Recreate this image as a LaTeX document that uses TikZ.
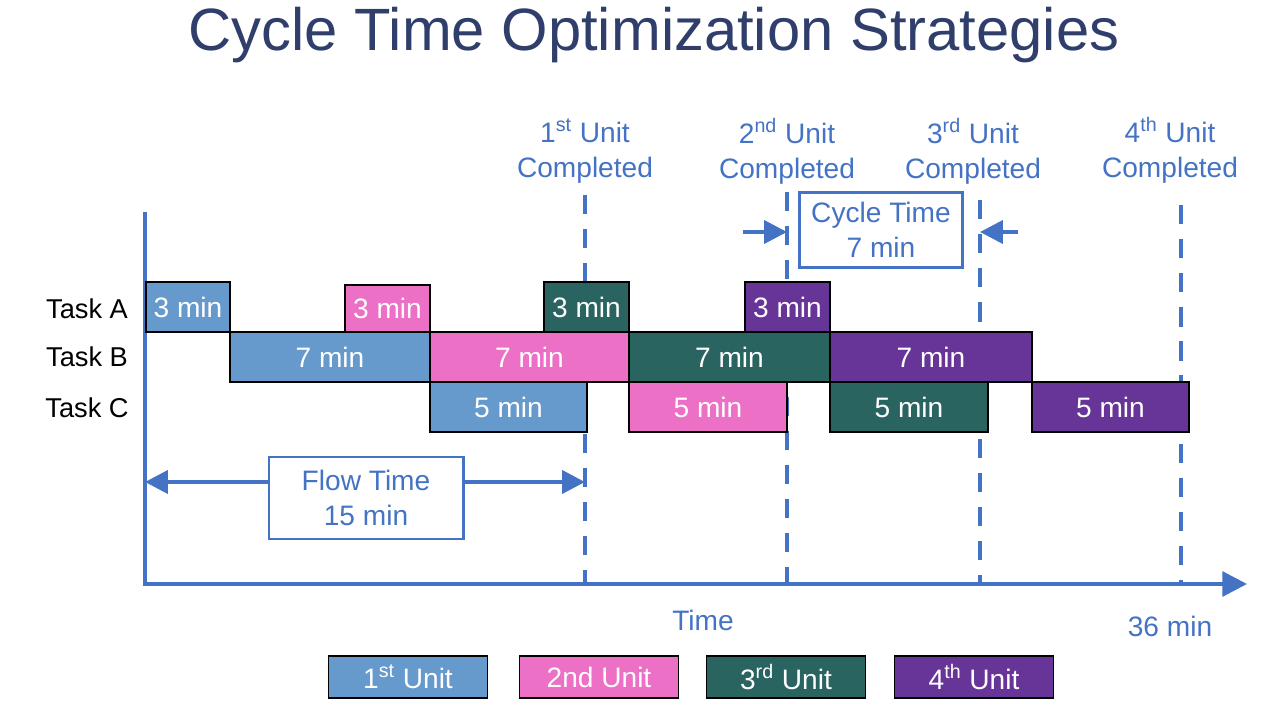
\documentclass[tikz,border=0pt]{standalone}
\usepackage{fontspec}
\setmainfont{Liberation Sans}
\usetikzlibrary{arrows.meta, positioning}
\definecolor{unitblue}{RGB}{102,153,204}
\definecolor{unitpink}{RGB}{236,112,198}
\definecolor{unitteal}{RGB}{42,100,97}
\definecolor{unitpurple}{RGB}{103,52,152}
\definecolor{lineblue}{RGB}{68,114,196}
\definecolor{titlenavy}{RGB}{47,62,107}

\begin{document}
\begin{tikzpicture}[
  x=0.02cm, y=-0.02cm,
  font=\fontsize{16}{20}\selectfont,
  bar/.style={draw=black, line width=1.1pt, inner sep=0pt, text=white, anchor=north west, minimum width=#1*0.02cm, minimum height=50*0.02cm},
  leyenda/.style={draw=black, line width=1.1pt, inner sep=0pt, text=white, minimum width=159*0.02cm, minimum height=42*0.02cm},
  marco/.style={draw=lineblue, line width=1.7pt, fill=white, text=lineblue, align=center, inner sep=0pt},
  et/.style={text=lineblue, align=center, inner sep=1pt},
  tarea/.style={font=\fontsize{15.5}{19}\selectfont, inner sep=1pt},
  eje/.style={draw=lineblue, line width=2.3pt},
  corte/.style={draw=lineblue, line width=2.6pt, dash pattern=on 11pt off 8.4pt},
  flecha/.style={-{Triangle[length=13pt, width=13pt]}, draw=lineblue, line width=2.3pt}
]
\useasboundingbox (0,0) rectangle (1274,716);
% Título
\node[font=\fontsize{34}{40}\selectfont, text=titlenavy] (titulo) at (654,35) {Cycle Time Optimization Strategies};
% Ejes y líneas de unidad terminada
\coordinate (yarriba) at (145,212);
\coordinate (origen) at (145,584);
\coordinate (xfin) at (1247,584);
\foreach \x/\t/\n in {585/195/1, 787/192/2, 980/200/3, 1181/205/4} {
  \coordinate (d\n t) at (\x,\t);
  \coordinate (d\n b) at (\x,584);
  \draw[corte] (d\n t) -- (d\n b);
}
\draw[eje, -{Triangle[length=14pt, width=14pt]}, line join=miter] (yarriba) -- (origen) -- (xfin);
\node[et] (done1) at (585,151) {1\textsuperscript{st} Unit\\Completed};
\node[et] (done2) at (787,151) {2\textsuperscript{nd} Unit\\Completed};
\node[et] (done3) at (973,151) {3\textsuperscript{rd} Unit\\Completed};
\node[et] (done4) at (1170,150) {4\textsuperscript{th} Unit\\Completed};
% Tareas
\node[tarea] (taska) at (87,309) {Task A};
\node[tarea] (taskb) at (87,357) {Task B};
\node[tarea] (taskc) at (87,408) {Task C};
% Bloques por unidad
\node[bar=84, fill=unitblue] (a1) at (145,281) {3 min};
\node[bar=200, fill=unitblue] (b1) at (229,331) {7 min};
\node[bar=157, fill=unitblue] (c1) at (429,381) {5 min};
\node[bar=85, fill=unitpink, minimum height=47*0.02cm] (a2) at (344,284) {3 min};
\node[bar=199, fill=unitpink] (b2) at (429,331) {7 min};
\node[bar=158, fill=unitpink] (c2) at (628,381) {5 min};
\node[bar=85, fill=unitteal] (a3) at (543,281) {3 min};
\node[bar=201, fill=unitteal] (b3) at (628,331) {7 min};
\node[bar=158, fill=unitteal] (c3) at (829,381) {5 min};
\node[bar=85, fill=unitpurple] (a4) at (744,281) {3 min};
\node[bar=202, fill=unitpurple] (b4) at (829,331) {7 min};
\node[bar=157, fill=unitpurple] (c4) at (1031,381) {5 min};
% Tiempo de ciclo
\node[marco, minimum width=163*0.02cm, minimum height=75*0.02cm] (ciclo) at (881,230) {Cycle Time\\7 min};
\coordinate (cizq) at (743,232);
\coordinate (cder) at (1018,232);
\draw[flecha] (cizq) -- (cizq -| d2b);
\draw[flecha] (cder) -- (cder -| d3b);
% Tiempo de flujo
\node[marco, minimum width=194*0.02cm, minimum height=82*0.02cm] (flujo) at (366,498) {Flow Time\\15 min};
\coordinate (fizq) at (145,482);
\coordinate (fder) at (585,482);
\draw[flecha] (flujo.west |- fizq) -- (fizq);
\draw[flecha] (flujo.east |- fder) -- (fder);
% Eje de tiempo
\node[et] (tiempo) at (703,620) {Time};
\node[et] (fin) at (1170,626) {36 min};
% Leyenda
\node[leyenda, fill=unitblue] (ley1) at (408,677) {1\textsuperscript{st} Unit};
\node[leyenda, fill=unitpink] (ley2) at (599,677) {2nd Unit};
\node[leyenda, fill=unitteal] (ley3) at (786,677) {3\textsuperscript{rd} Unit};
\node[leyenda, fill=unitpurple] (ley4) at (974,677) {4\textsuperscript{th} Unit};
\end{tikzpicture}
\end{document}
